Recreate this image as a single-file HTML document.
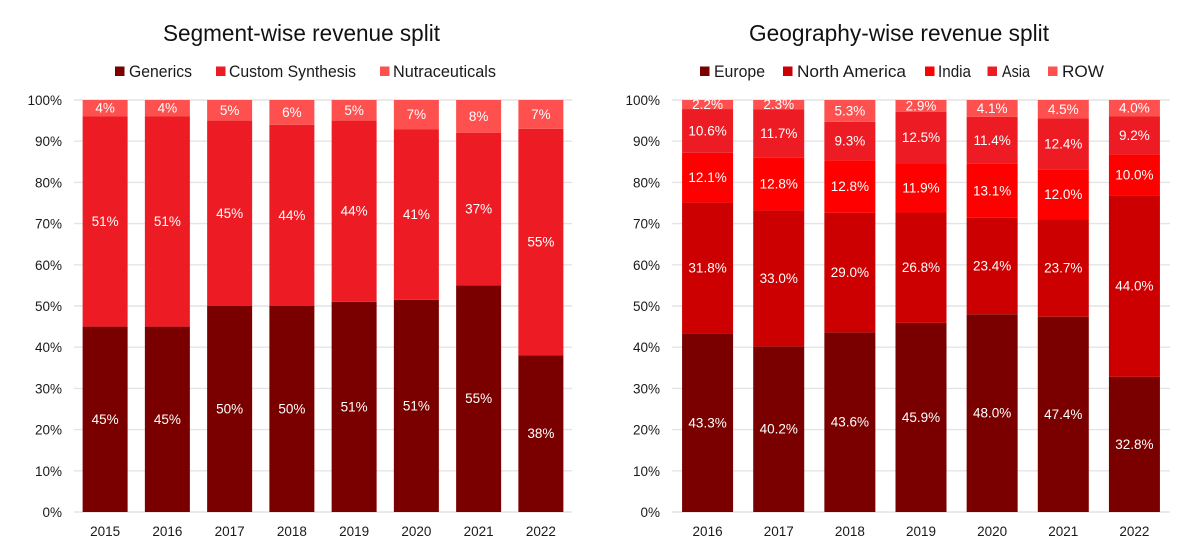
<!DOCTYPE html>
<html lang="en">
<head>
<meta charset="utf-8">
<title>Revenue split charts</title>
<style>
  html, body { margin: 0; padding: 0; background: #fff; }
  svg { display: block; font-family: "Liberation Sans", sans-serif; }
  .title { font-size: 23.5px; fill: #111; }
  .legend { font-size: 17px; fill: #1a1a1a; }
</style>
</head>
<body>
<svg id="chart" width="1200" height="547" viewBox="0 0 1200 547" xmlns="http://www.w3.org/2000/svg">
  <rect width="1200" height="547" fill="#fff"/>
  <text class="title" x="163" y="41" textLength="277" lengthAdjust="spacingAndGlyphs">Segment-wise revenue split</text>
  <text class="title" x="749" y="41" textLength="300" lengthAdjust="spacingAndGlyphs">Geography-wise revenue split</text>

  <g>
    <rect x="115" y="66.5" width="9.5" height="9.5" fill="#7a0000"/>
    <text class="legend" x="129" y="77" textLength="63" lengthAdjust="spacingAndGlyphs">Generics</text>
    <rect x="216" y="66.5" width="9.5" height="9.5" fill="#ed1c24"/>
    <text class="legend" x="229" y="77" textLength="127" lengthAdjust="spacingAndGlyphs">Custom Synthesis</text>
    <rect x="380" y="66.5" width="9.5" height="9.5" fill="#ff5050"/>
    <text class="legend" x="393" y="77" textLength="103" lengthAdjust="spacingAndGlyphs">Nutraceuticals</text>
  </g>
  <g>
    <rect x="700" y="66.5" width="9.5" height="9.5" fill="#7a0000"/>
    <text class="legend" x="714" y="77" textLength="51" lengthAdjust="spacingAndGlyphs">Europe</text>
    <rect x="783" y="66.5" width="9.5" height="9.5" fill="#cc0000"/>
    <text class="legend" x="797" y="77" textLength="109" lengthAdjust="spacingAndGlyphs">North America</text>
    <rect x="925" y="66.5" width="9.5" height="9.5" fill="#ff0000"/>
    <text class="legend" x="938" y="77" textLength="33" lengthAdjust="spacingAndGlyphs">India</text>
    <rect x="987.5" y="66.5" width="9.5" height="9.5" fill="#ed1c24"/>
    <text class="legend" x="1002" y="77" textLength="28" lengthAdjust="spacingAndGlyphs">Asia</text>
    <rect x="1048" y="66.5" width="9.5" height="9.5" fill="#ff5050"/>
    <text class="legend" x="1062" y="77" textLength="42" lengthAdjust="spacingAndGlyphs">ROW</text>
  </g>
</svg>

<script>
const segmentYears = ["2015", "2016", "2017", "2018", "2019", "2020", "2021", "2022"];
const generics = [45, 45, 50, 50, 51, 51, 55, 38];
const customSynthesis = [51, 51, 45, 44, 44, 41, 37, 55];
const nutraceuticals = [4, 4, 5, 6, 5, 7, 8, 7];

const geographyYears = ["2016", "2017", "2018", "2019", "2020", "2021", "2022"];
const europe = [43.3, 40.2, 43.6, 45.9, 48.0, 47.4, 32.8];
const northAmerica = [31.8, 33.0, 29.0, 26.8, 23.4, 23.7, 44.0];
const india = [12.1, 12.8, 12.8, 11.9, 13.1, 12.0, 10.0];
const asia = [10.6, 11.7, 9.3, 12.5, 11.4, 12.4, 9.2];
const row = [2.2, 2.3, 5.3, 2.9, 4.1, 4.5, 4.0];

const yTicks = [0, 10, 20, 30, 40, 50, 60, 70, 80, 90, 100];

const NS = "http://www.w3.org/2000/svg";
const svg = document.getElementById("chart");
const yBottom = 512;
const yTop = 100;

function yScale(pct) {
  return yBottom - (pct / 100) * (yBottom - yTop);
}

function drawChart(opts) {
  const group = document.createElementNS(NS, "g");
  
  
  svg.appendChild(group);

  const band = (opts.right - opts.left) / opts.categories.length;
  const xBand = function (i) { return opts.left + band * i; };

  yTicks.forEach(function (tick) {
    const line = document.createElementNS(NS, "line");
    line.setAttribute("x1", opts.left);
    line.setAttribute("x2", opts.right);
    line.setAttribute("y1", yScale(tick));
    line.setAttribute("y2", yScale(tick));
    line.setAttribute("stroke", "#e4e4e4");
    line.setAttribute("stroke-width", "1.4");
    
    
    group.appendChild(line);

    const label = document.createElementNS(NS, "text");
    label.setAttribute("x", opts.left - 12);
    label.setAttribute("y", yScale(tick) + 5);
    label.setAttribute("text-anchor", "end");
    label.setAttribute("font-size", "13.5");
    label.setAttribute("fill", "#1a1a1a");
    
    
    label.textContent = tick + "%";
    group.appendChild(label);
  });

  opts.categories.forEach(function (cat, i) {
    const cx = xBand(i) + band / 2;
    let total = 0;
    opts.series.forEach(function (s) { total += s.values[i]; });
    let running = 0;
    opts.series.forEach(function (s) {
      const v = s.values[i];
      const y0 = yScale((running / total) * 100);
      const y1 = yScale(((running + v) / total) * 100);
      running += v;

      const bar = document.createElementNS(NS, "rect");
      bar.setAttribute("x", cx - opts.barWidth / 2);
      bar.setAttribute("y", y1);
      bar.setAttribute("width", opts.barWidth);
      bar.setAttribute("height", y0 - y1);
      bar.setAttribute("fill", s.color);
      
      
      group.appendChild(bar);

      const valueLabel = document.createElementNS(NS, "text");
      valueLabel.setAttribute("x", cx);
      valueLabel.setAttribute("y", (y0 + y1) / 2 + 4.5);
      valueLabel.setAttribute("text-anchor", "middle");
      valueLabel.setAttribute("font-size", "13.5");
      valueLabel.setAttribute("fill", "#ffffff");
      
      
      valueLabel.textContent = v.toFixed(opts.decimals) + "%";
      group.appendChild(valueLabel);
    });

    const yearLabel = document.createElementNS(NS, "text");
    yearLabel.setAttribute("x", cx);
    yearLabel.setAttribute("y", 536);
    yearLabel.setAttribute("text-anchor", "middle");
    yearLabel.setAttribute("font-size", "13.5");
    yearLabel.setAttribute("fill", "#1a1a1a");
    
    
    yearLabel.textContent = cat;
    group.appendChild(yearLabel);
  });
}

drawChart({
  name: "segment-revenue-chart",
  left: 74,
  right: 572,
  barWidth: 45,
  decimals: 0,
  categories: segmentYears,
  series: [
    { values: generics, color: "#7a0000" },
    { values: customSynthesis, color: "#ed1c24" },
    { values: nutraceuticals, color: "#ff5050" }
  ]
});

drawChart({
  name: "geography-revenue-chart",
  left: 672,
  right: 1170,
  barWidth: 51,
  decimals: 1,
  categories: geographyYears,
  series: [
    { values: europe, color: "#7a0000" },
    { values: northAmerica, color: "#cc0000" },
    { values: india, color: "#ff0000" },
    { values: asia, color: "#ed1c24" },
    { values: row, color: "#ff5050" }
  ]
});
</script>
</body>
</html>
